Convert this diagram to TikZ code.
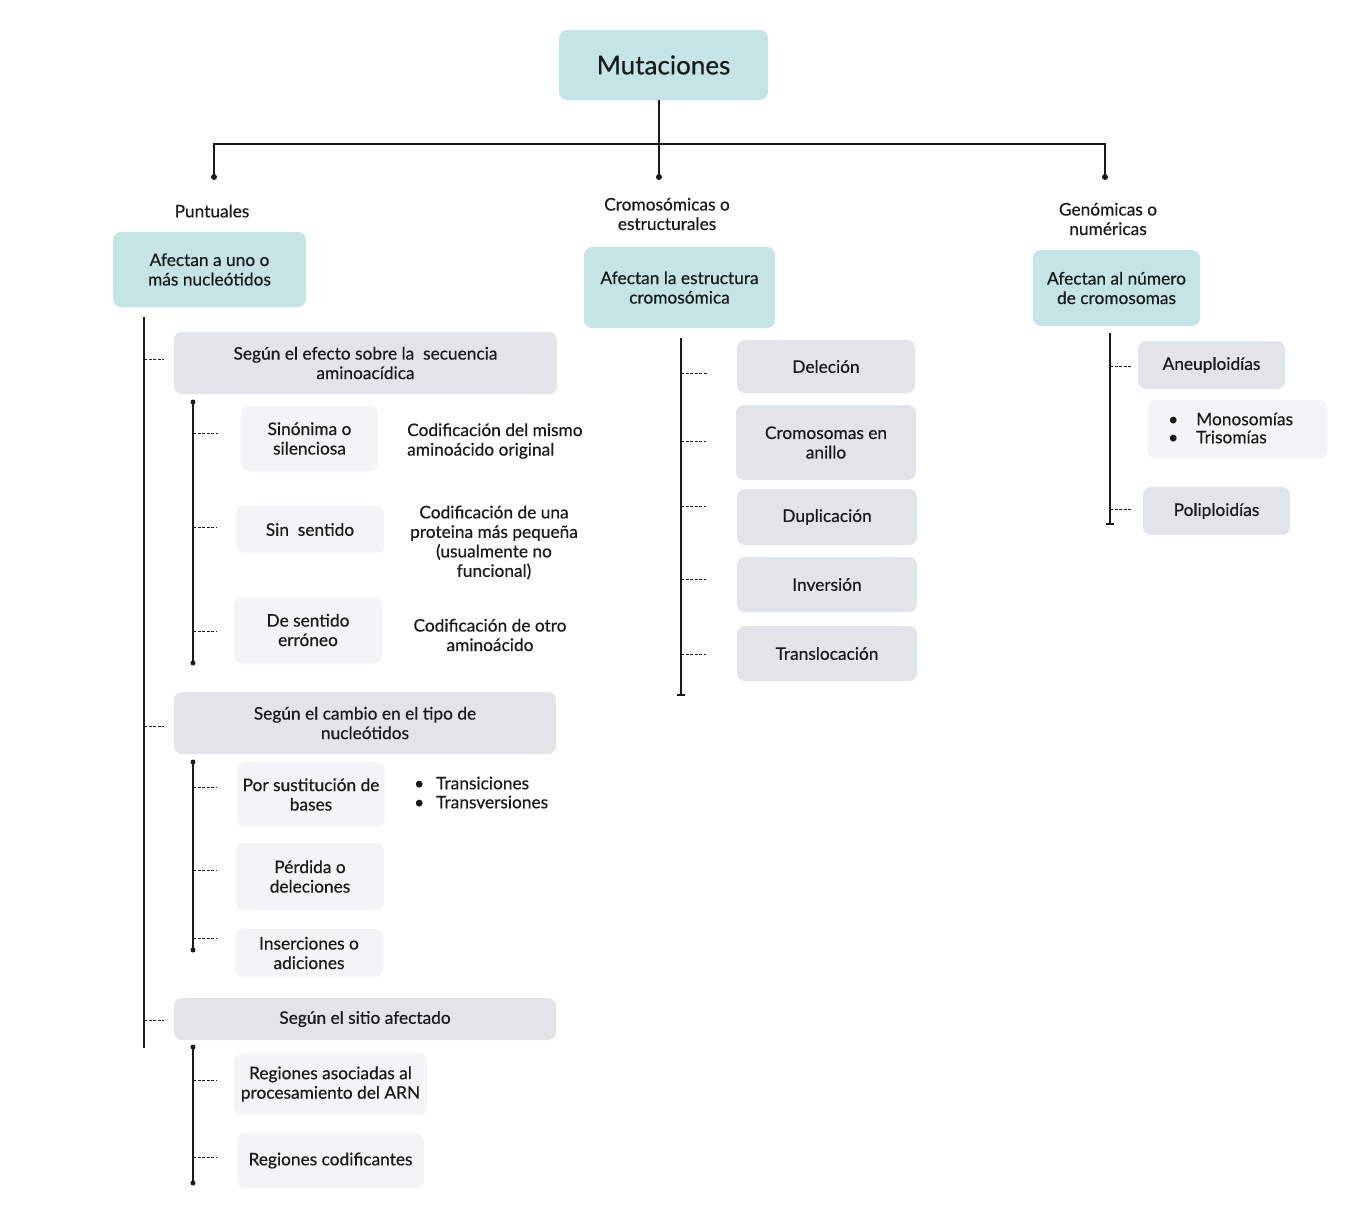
\documentclass[tikz,border=0pt]{standalone}
\usepackage{fontspec}
\setmainfont{Lato}[FakeBold=0.5]
\definecolor{teal}{HTML}{C5E4E6}
\definecolor{grayb}{HTML}{E1E5E9}
\definecolor{lightb}{HTML}{F3F4F5}
\definecolor{ink}{HTML}{1A1A1A}
\begin{document}
\begin{tikzpicture}[x=1pt,y=-1pt,
  every node/.style={text=ink,font=\fontsize{17.3}{19.5}\selectfont,align=center,inner sep=0pt},
  bx/.style n args={2}{rounded corners=8pt,minimum width=#1pt,minimum height=#2pt},
  tealbox/.style 2 args={bx={#1}{#2},fill=teal},
  graybox/.style 2 args={bx={#1}{#2},fill=grayb},
  lightbox/.style 2 args={bx={#1}{#2},fill=lightb},
  trunk/.style={draw=ink,line width=2pt},
  stem/.style={draw=ink,line width=1.4pt},
  tick/.style={draw=ink,line width=1pt,dash pattern=on 3pt off 1.5pt},
  dotend/.style={fill=ink,circle,minimum size=6pt,inner sep=0pt}]
\useasboundingbox (0,0) rectangle (1364,1216);

% top
\node[tealbox={209}{70},font=\fontsize{26}{30}\selectfont] (mut) at (663.5,65) {Mutaciones};
\coordinate (mtop) at (659,100);
\coordinate (lj) at (214,144);
\coordinate (rj) at (1105,144);
\node[dotend] (dL) at (214,177) {};
\node[dotend] (dM) at (659,177) {};
\node[dotend] (dR) at (1105,177) {};
\draw[trunk] (mtop) -- (dM.center);
\draw[trunk] (dL.center) -- (lj) -- (rj) -- (dR.center);

% level 1
\node (l1) at (212,211) {Puntuales};
\node (l2) at (667,214) {Cromosómicas o\\estructurales};
\node (l3) at (1108,219) {Genómicas o\\numéricas};
\node[tealbox={193}{75}] (t1) at (209.5,269.5) {Afectan a uno o\\más nucleótidos};
\node[tealbox={191}{81}] (t2) at (679.5,287.5) {Afectan la estructura\\cromosómica};
\node[tealbox={167}{76}] (t3) at (1116.5,288) {Afectan al número\\de cromosomas};

% left column
\coordinate (vLa) at (144,317);
\coordinate (vLb) at (144,1048);
\draw[stem,line width=1.2pt] (vLa) -- (vLb);
\node[graybox={383}{62}] (g1) at (365.5,363) {Según el efecto sobre la\ \ secuencia\\aminoacídica};
\node[graybox={382}{62}] (g2) at (365,723) {Según el cambio en el tipo de\\nucleótidos};
\node[graybox={382}{42}] (g3) at (365,1019) {Según el sitio afectado};
\draw[tick] (144,359) -- (164,359);
\draw[tick] (144,726) -- (164,726);
\draw[tick] (144,1020) -- (164,1020);

% group 1
\node[dotend,minimum size=5pt] (a1) at (193,402) {};
\node[dotend,minimum size=5pt] (a2) at (193,663) {};
\draw[stem] (a1.center) -- (a2.center);
\node[lightbox={137}{65}] (s1) at (309.5,438.5) {Sinónima o\\silenciosa};
\node[lightbox={148}{47}] (s2) at (310,529.5) {Sin\ \ sentido};
\node[lightbox={148}{66}] (s3) at (308,630) {De sentido\\erróneo};
\draw[tick] (193,433) -- (218,433);
\draw[tick] (193,527) -- (216,527);
\draw[tick] (193,631) -- (216,631);
\node[align=left,anchor=west] (e1) at (407,441) {Codificación del mismo\\aminoácido original};
\node (e2) at (494,542.5) {Codificación de una\\proteina más pequeña\\(usualmente no\\funcional)};
\node (e3) at (490,635) {Codificación de otro\\aminoácido};

% group 2
\node[dotend,minimum size=5pt] (b1) at (193,762) {};
\node[dotend,minimum size=5pt] (b2) at (193,950) {};
\draw[stem] (b1.center) -- (b2.center);
\node[lightbox={148}{65}] (p1) at (311,794.5) {Por sustitución de\\bases};
\node[lightbox={148}{67}] (p2) at (310,876.5) {Pérdida o\\deleciones};
\node[lightbox={148}{48}] (p3) at (309,953) {Inserciones o\\adiciones};
\draw[tick] (193,787) -- (216,787);
\draw[tick] (193,870) -- (216,870);
\draw[tick] (193,938) -- (216,938);
\node[align=left,anchor=west] (tb1) at (414,783) {\textbullet\hspace{12pt}Transiciones};
\node[align=left,anchor=west] (tb2) at (414,802) {\textbullet\hspace{12pt}Transversiones};

% group 3
\node[dotend,minimum size=5pt] (c1) at (193,1047) {};
\node[dotend,minimum size=5pt] (c2) at (193,1183) {};
\draw[stem] (c1.center) -- (c2.center);
\node[lightbox={193}{62}] (q1) at (330.5,1084) {Regiones asociadas al\\procesamiento del ARN};
\node[lightbox={187}{55}] (q2) at (330.5,1160.5) {Regiones codificantes};
\draw[tick] (193,1080) -- (216,1080);
\draw[tick] (193,1157) -- (216,1157);

% middle column
\coordinate (vMa) at (681,338);
\coordinate (vMb) at (681,695);
\draw[stem,line width=1.2pt] (vMa) -- (vMb);
\draw[line width=1.2pt,ink] (677,695) -- (685,695);
\node[graybox={178}{53}] (d1) at (826,366.5) {Deleción};
\node[graybox={180}{75}] (d2) at (826,442.5) {Cromosomas en\\anillo};
\node[graybox={180}{56}] (d3) at (827,517) {Duplicación};
\node[graybox={180}{55}] (d4) at (827,584.5) {Inversión};
\node[graybox={180}{55}] (d5) at (827,653.5) {Translocación};
\draw[tick] (681,373) -- (707,373);
\draw[tick] (681,441) -- (706,441);
\draw[tick] (681,506) -- (706,506);
\draw[tick] (681,579) -- (706,579);
\draw[tick] (681,654) -- (706,654);

% right column
\coordinate (vRa) at (1110,333);
\coordinate (vRb) at (1110,524);
\draw[stem,line width=1.2pt] (vRa) -- (vRb);
\draw[line width=1.2pt,ink] (1106,524) -- (1114,524);
\node[graybox={147}{48}] (r1) at (1211.5,365) {Aneuploidías};
\node[lightbox={179}{59}] (r2) at (1237.5,429.5) {};
\node[align=left,anchor=west] (rb1) at (1168,419) {\textbullet\hspace{18pt}Monosomías};
\node[align=left,anchor=west] (rb2) at (1168,437) {\textbullet\hspace{18pt}Trisomías};
\node[graybox={147}{48}] (r3) at (1216.5,511) {Poliploidías};
\draw[tick] (1110,366) -- (1131,366);
\draw[tick] (1110,509) -- (1131,509);
\end{tikzpicture}
\end{document}
